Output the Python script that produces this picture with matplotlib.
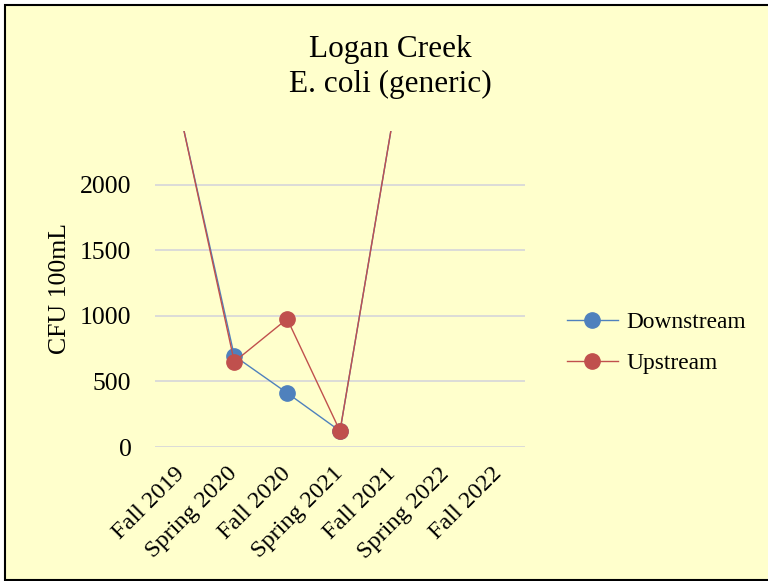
import numpy as np
import matplotlib.pyplot as plt
from matplotlib.patches import Rectangle

plt.rcParams['font.family'] = ['Liberation Serif', 'DejaVu Serif']

# Datos (los que salen por arriba son estimados)
seasons = ["Fall 2019", "Spring 2020", "Fall 2020", "Spring 2021",
           "Fall 2021", "Spring 2022", "Fall 2022"]
downstream = [2500, 695, 412, 122, 2500, np.nan, np.nan]
upstream = [2500, 650, 977, 122, 2500, np.nan, np.nan]
y_ticks = [0, 500, 1000, 1500, 2000]

blue = "#4F81BD"
red = "#C0504D"

fig = plt.figure(figsize=(7.68, 5.81), dpi=100, facecolor="white")

# Fondo amarillo con borde negro
fig.patches.append(Rectangle((5 / 768, 1 / 581), 770 / 768, 575 / 581,
                             transform=fig.transFigure, facecolor="#FFFFCC",
                             edgecolor="black", linewidth=1.5, zorder=-10))

ax = fig.add_axes([155 / 768, 1 - 447 / 581, 370 / 768, 316 / 581])
ax.set_facecolor("none")

x = np.arange(len(seasons))
ax.plot(x, downstream, color=blue, lw=1.0, marker="o", ms=11,
        label="Downstream")
ax.plot(x, upstream, color=red, lw=1.0, marker="o", ms=11,
        label="Upstream")

ax.set_xlim(-0.5, 6.5)
ax.set_ylim(0, 2410)
ax.set_yticks(y_ticks)
ax.grid(axis="y", color="#D9D9D9", lw=1.3)
ax.set_axisbelow(True)
for s in ax.spines.values():
    s.set_visible(False)

ax.set_xticks(x)
ax.set_xticklabels(seasons, rotation=45, ha="right", va="center",
                   rotation_mode="anchor", fontsize=17.5)
ax.tick_params(axis="x", length=0, pad=17)
ax.tick_params(axis="y", length=0, pad=17, labelsize=18.5)

ax.set_ylabel("CFU 100mL", fontsize=18.5)
ax.yaxis.set_label_coords(-0.228, 0.5)

fig.text(390 / 768, 1 - 67 / 581, "Logan Creek\nE. coli (generic)",
         ha="center", va="center", fontsize=22.5, linespacing=1.25)

fig.legend(loc="center left", bbox_to_anchor=(555 / 768, 1 - 343 / 581),
           frameon=False, fontsize=16.8, handlelength=2.2,
           handletextpad=0.35, labelspacing=0.85, borderpad=0)

plt.savefig("out.png", dpi=100, facecolor=fig.get_facecolor())
